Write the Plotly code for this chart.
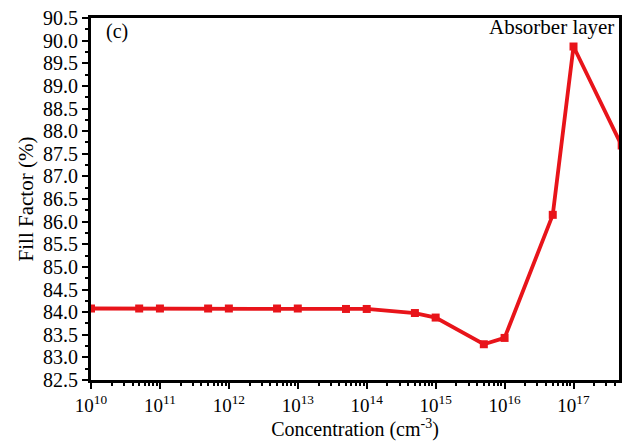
import plotly.graph_objects as go

concentration = [1e10, 5e10, 1e11, 5e11, 1e12, 5e12, 1e13, 5e13, 1e14, 5e14, 1e15, 5e15, 1e16, 5e16, 1e17, 5e17]
fill_factor = [84.08, 84.08, 84.08, 84.08, 84.08, 84.08, 84.08, 84.07, 84.07, 83.98, 83.88, 83.29, 83.43, 86.15, 89.87, 87.68]

decades = list(range(10, 18))
xtick_vals = [10.0 ** k for k in decades]
xtick_text = ["10<sup>%d</sup>" % k for k in decades]
xminor_vals = [m * 10.0 ** k for k in decades for m in range(2, 10)]

font_family = "Liberation Serif"

fig = go.Figure()
fig.add_trace(go.Scatter(
    x=concentration, y=fill_factor, mode="lines+markers",
    line=dict(color="#e8141a", width=3.8),
    marker=dict(symbol="square", size=8, color="#e8141a"),
    showlegend=False,
))

fig.update_layout(
    width=629, height=445,
    margin=dict(l=91, r=7, t=15, b=62),
    paper_bgcolor="white", plot_bgcolor="white",
    font=dict(family=font_family, size=17, color="black"),
    xaxis=dict(
        type="log", range=[10, 17.66],
        tickvals=xtick_vals, ticktext=xtick_text,
        ticks="outside", ticklen=6, tickwidth=2, tickcolor="black",
        minor=dict(tickvals=xminor_vals, ticks="outside", ticklen=3, tickwidth=1.5, tickcolor="black"),
        showline=True, linewidth=3, linecolor="black", mirror=True,
        showgrid=False, zeroline=False,
        tickfont=dict(family=font_family, size=19),
        title=dict(text="Concentration (cm<sup>-3</sup>)", font=dict(family=font_family, size=20), standoff=8),
    ),
    yaxis=dict(
        range=[82.5, 90.5], dtick=0.5, tick0=82.5, tickformat=".1f",
        ticks="outside", ticklen=6, tickwidth=2, tickcolor="black",
        minor=dict(dtick=0.25, ticks="outside", ticklen=3, tickwidth=1.5, tickcolor="black"),
        showline=True, linewidth=3, linecolor="black", mirror=True,
        showgrid=False, zeroline=False,
        tickfont=dict(family=font_family, size=20),
        title=dict(text="Fill Factor (%)", font=dict(family=font_family, size=21), standoff=4),
    ),
    annotations=[
        dict(text="(c)", xref="paper", yref="paper", x=0.025, y=0.962, xanchor="left", yanchor="middle",
             showarrow=False, font=dict(family=font_family, size=20)),
        dict(text="Absorber layer", xref="paper", yref="paper", x=0.995, y=0.975, xanchor="right", yanchor="middle",
             showarrow=False, font=dict(family=font_family, size=21)),
    ],
)

fig.write_html("out.html")
